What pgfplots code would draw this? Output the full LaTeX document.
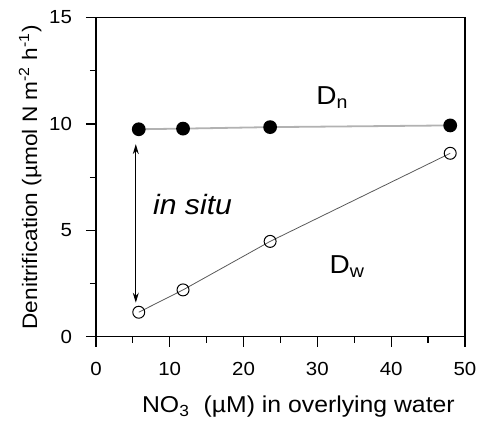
\documentclass[border=0pt]{standalone}
\usepackage{fontspec}
\setmainfont[FakeStretch=1.08]{Liberation Sans}
\usepackage{pgfplots}
\pgfplotsset{compat=1.18}
\usetikzlibrary{arrows.meta}

\begin{document}
\begin{tikzpicture}
\begin{axis}[
  scale only axis, width=185pt, height=160pt,
  xmin=0, xmax=50, ymin=0, ymax=15,
  xtick={0,10,...,50}, ytick={0,5,10,15},
  minor x tick num=1, minor y tick num=1,
  tick align=outside, tick pos=left,
  major tick length=5pt, minor tick length=3pt,
  tick style={black, line width=0.6pt},
  axis line style={line width=0.6pt},
  font=\fontsize{9.5}{11}\selectfont,
  /pgf/number format/assume math mode=true,
  yticklabel style={xshift=-3.5pt},
  xticklabel style={yshift=-4.5pt},
  xlabel={NO\textsubscript{3}\ \ (µM) in overlying water},
  ylabel={Denitrification (µmol N m\textsuperscript{-2} h\textsuperscript{-1})},
  xlabel style={font=\fontsize{11.5}{13}\selectfont, yshift=-3pt, xshift=9pt},
  ylabel style={font=\fontsize{10.5}{12}\selectfont, yshift=-3pt},
  clip=false,
]
% D_n (filled)
\addplot[gray!60, line width=0.9pt, mark=*, mark size=3pt,
  mark options={fill=black, draw=black}]
  coordinates {(5.8,9.75)(11.8,9.78)(23.6,9.85)(48,9.93)};
% D_w (open)
\addplot[gray!70!black, line width=0.4pt, mark=o, mark size=3pt,
  mark options={draw=black, fill=white, line width=0.5pt}]
  coordinates {(5.8,1.15)(11.8,2.2)(23.6,4.48)(48,8.62)};
% in situ arrow
\draw[{Stealth[length=5pt,width=3pt]}-{Stealth[length=5pt,width=3pt]}, line width=0.5pt]
  (axis cs:5.4,9.05) -- (axis cs:5.4,1.6);
\node[anchor=west, font=\fontsize{14}{16}\selectfont\itshape] at (axis cs:6.8,6.2) {in situ};
\node[font=\fontsize{13}{15}\selectfont] at (axis cs:32,11.25) {D$_{\mathrm{n}}$};
\node[font=\fontsize{13}{15}\selectfont] at (axis cs:34,3.3) {D$_{\mathrm{w}}$};
% page margins as in the reference
\path (rel axis cs:-0.26,1.055) (rel axis cs:1.046,-0.24);
\end{axis}
\end{tikzpicture}
\end{document}
